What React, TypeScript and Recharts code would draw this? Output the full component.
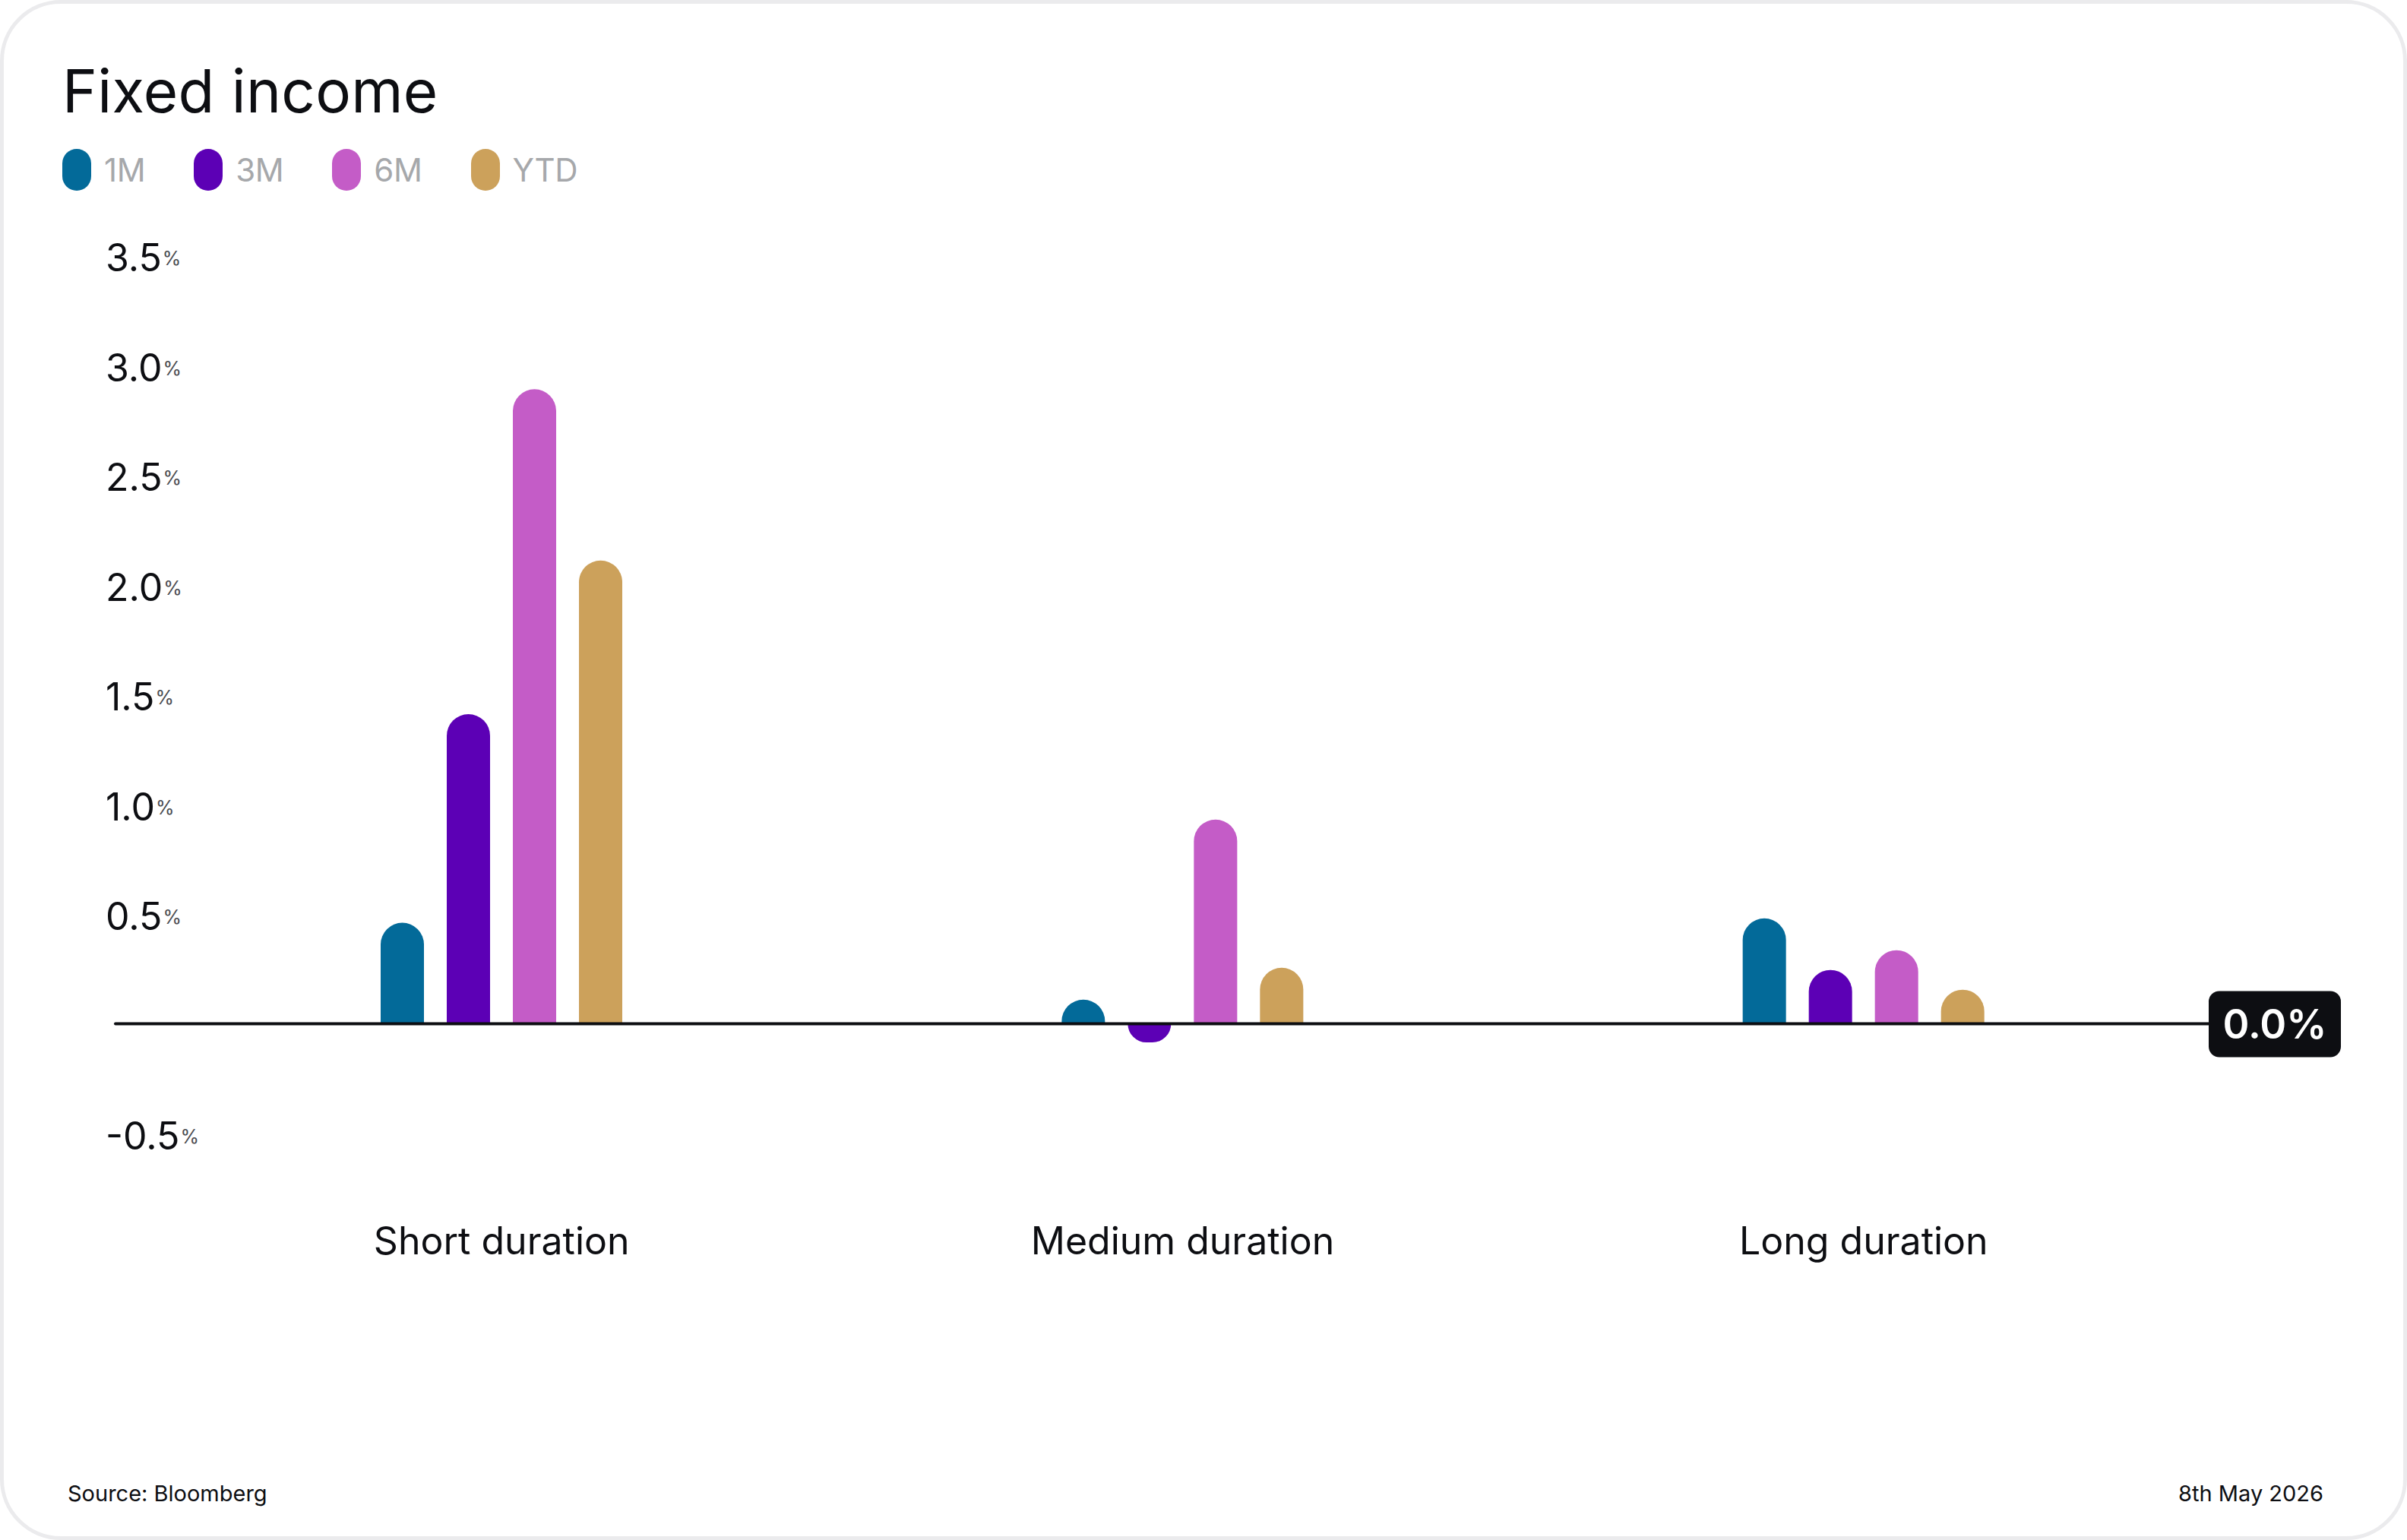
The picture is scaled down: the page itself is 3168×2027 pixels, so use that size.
import React from "react";
import { BarChart, Bar, XAxis, YAxis, ReferenceLine } from "recharts";

const categories = ["Short duration", "Medium duration", "Long duration"];
const oneMonth = [0.46, 0.11, 0.48];
const threeMonth = [1.41, -0.085, 0.245];
const sixMonth = [2.89, 0.93, 0.335];
const yearToDate = [2.11, 0.255, 0.155];
const seriesNames = ["1M", "3M", "6M", "YTD"];
const yTicks = [-0.5, 0.5, 1, 1.5, 2, 2.5, 3, 3.5];

const colors: Record<string, string> = {
  "1M": "#036a99",
  "3M": "#5c00b5",
  "6M": "#c45cc7",
  YTD: "#cca15b",
};

const seriesValues: Record<string, number[]> = {
  "1M": oneMonth,
  "3M": threeMonth,
  "6M": sixMonth,
  YTD: yearToDate,
};

const data = categories.map((name, i) => {
  const row: Record<string, string | number> = { name };
  seriesNames.forEach((s) => (row[s] = seriesValues[s][i]));
  return row;
});

const ink = "#0d0e12";
const font = "Inter, 'Noto Sans', sans-serif";

// rounded end on the value side, flat on the zero line
const PillBar = (props: any) => {
  const { x, y, width, height, fill, value } = props;
  if (!width || !height) return null;
  const v = Array.isArray(value) ? value[1] : value;
  const top = Math.min(y, y + height);
  const bottom = Math.max(y, y + height);
  const h = bottom - top;
  const r = Math.min(width / 2, h);
  const w = width;
  let d;
  if (v < 0) {
    d = `M${x},${top} L${x},${bottom - r} A${r},${r} 0 0 0 ${x + r},${bottom} L${x + w - r},${bottom} A${r},${r} 0 0 0 ${x + w},${bottom - r} L${x + w},${top} Z`;
  } else {
    d = `M${x},${bottom} L${x},${top + r} A${r},${r} 0 0 1 ${x + r},${top} L${x + w - r},${top} A${r},${r} 0 0 1 ${x + w},${top + r} L${x + w},${bottom} Z`;
  }
  return <path d={d} fill={fill} />;
};

const YTick = (props: any) => {
  const { x, y, payload } = props;
  return (
    <text x={x - 13} y={y + 21} textAnchor="start" fontFamily={font} fontSize={50} fill={ink}>
      {payload.value.toFixed(1)}
      <tspan dx={1} dy={-8} fontSize={25} fill="#4a4b50">%</tspan>
    </text>
  );
};

const XTick = (props: any) => {
  const { x, y, payload } = props;
  return (
    <text x={x} y={y + 159} textAnchor="middle" fontFamily={font} fontSize={50} fill={ink}>
      {payload.value}
    </text>
  );
};

const ZeroBadge = (props: any) => {
  const { viewBox } = props;
  const x0 = viewBox.x + viewBox.width;
  const y0 = viewBox.y;
  return (
    <g>
      <rect x={x0} y={y0 - 43} width={174} height={87} rx={14} fill={ink} />
      <text x={x0 + 87} y={y0 + 19} textAnchor="middle" fontFamily={font} fontSize={53} fontWeight={600} fill="#fff">
        {(0).toFixed(1)}%
      </text>
    </g>
  );
};

export default function App() {
  return (
    <div style={{ position: "absolute", left: 0, top: 0, width: 3168, height: 2027, background: "#fff", fontFamily: font }}>
      <div
        style={{
          position: "absolute",
          inset: 0,
          border: "5px solid #ebebed",
          borderRadius: 80,
          boxSizing: "border-box",
        }}
      />
      <svg width={3168} height={2027} style={{ position: "absolute", left: 0, top: 0 }}>
        <text x={82} y={148} fontFamily={font} fontSize={78} letterSpacing={0.3} fill={ink}>
          Fixed income
        </text>
        <text x={89} y={1976} fontFamily={font} fontSize={29} fill={ink}>
          Source: Bloomberg
        </text>
        <text x={3058} y={1976} textAnchor="end" fontFamily={font} fontSize={29} fill={ink}>
          8th May 2026
        </text>
      </svg>
      <div style={{ position: "absolute", left: 82, top: 196, display: "flex", alignItems: "center" }}>
        {seriesNames.map((s) => (
          <div key={s} style={{ display: "flex", alignItems: "center", marginRight: 64 }}>
            <div style={{ width: 38, height: 55, borderRadius: 19, background: colors[s], marginRight: 17 }} />
            <span style={{ fontSize: 42, lineHeight: "55px", letterSpacing: -0.4, color: "#a6a8ab" }}>{s}</span>
          </div>
        ))}
      </div>
      <div style={{ position: "absolute", left: 0, top: 0 }}>
        <BarChart
          width={3168}
          height={2027}
          data={data}
          margin={{ top: 336, right: 261, bottom: 335, left: 0 }}
          barSize={57}
          barGap={30}
        >
          <XAxis
            dataKey="name"
            axisLine={false}
            tickLine={false}
            tickSize={0}
            tickMargin={0}
            height={200}
            padding={{ left: 60, right: 6 }}
            tick={<XTick />}
            interval={0}
          />
          <YAxis
            domain={[-0.5, 3.5]}
            ticks={yTicks}
            axisLine={false}
            tickLine={false}
            tickSize={0}
            tickMargin={0}
            width={152}
            tick={<YTick />}
            interval={0}
          />
          {seriesNames.map((s) => (
            <Bar key={s} dataKey={s} fill={colors[s]} shape={<PillBar />} isAnimationActive={false} />
          ))}
          <ReferenceLine y={0} stroke={ink} strokeWidth={4} strokeLinecap="round" label={<ZeroBadge />} />
        </BarChart>
      </div>
    </div>
  );
}
